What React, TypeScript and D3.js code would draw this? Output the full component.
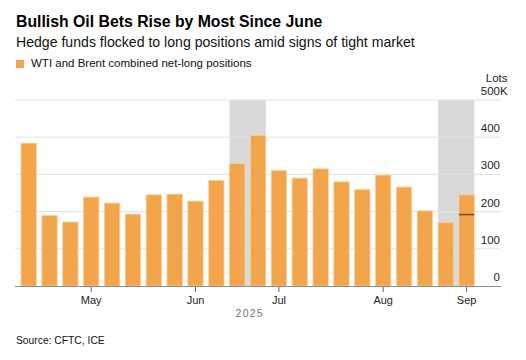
import React from "react";
import * as d3 from "d3";

// ---- data ----
const weeks = [
  "2025-04-08", "2025-04-15", "2025-04-22", "2025-04-29", "2025-05-06", "2025-05-13",
  "2025-05-20", "2025-05-27", "2025-06-03", "2025-06-10", "2025-06-17", "2025-06-24",
  "2025-07-01", "2025-07-08", "2025-07-15", "2025-07-22", "2025-07-29", "2025-08-05",
  "2025-08-12", "2025-08-19", "2025-08-26", "2025-09-02",
];
const netLongK = [384, 189, 172, 239, 223, 193, 245, 247, 228, 284, 329, 405, 310, 290, 315, 280, 259, 298, 266, 202, 170, 245];
const yTicks = [0, 100, 200, 300, 400, 500];
const tickWeeks = ["2025-04-29", "2025-06-03", "2025-07-01", "2025-08-05", "2025-09-02"];
const tickLabels = ["May", "Jun", "Jul", "Aug", "Sep"];
const shadedStart = ["2025-06-17", "2025-08-26"];
const shadedEnd = ["2025-06-24", "2025-09-02"];
const markerWeek = "2025-09-02";
const markerValueK = 192;

const W = 526;
const H = 360;
const FONT = "'Liberation Sans', Arial, Helvetica, sans-serif";
const ORANGE = "#f2a54a";

export default function App() {
  const x = d3.scaleBand<string>().domain(weeks).range([15.5, 479.8]).padding(0.265);
  const y = d3.scaleLinear().domain([0, 500]).range([286, 100]);
  const gridX0 = 15;
  const gridX1 = 501;
  const xCenter = (w: string) => (x(w) as number) + x.bandwidth() / 2;

  return (
    <svg
      width={W}
      height={H}
      style={{ position: "absolute", left: 0, top: 0, background: "#fff", fontFamily: FONT }}
    >
      <rect x={0} y={0} width={W} height={H} fill="#fff" />
      {/* titles */}
      <text x={16} y={26.5} fontSize={15.8} fontWeight="bold" fill="#000">
        Bullish Oil Bets Rise by Most Since June
      </text>
      <text x={16} y={46.5} fontSize={14.1} fill="#111">
        Hedge funds flocked to long positions amid signs of tight market
      </text>
      <rect x={16} y={60} width={8} height={8} fill={ORANGE} />
      <text x={31} y={67} fontSize={11.5} fill="#111">
        WTI and Brent combined net-long positions
      </text>

      {/* shading */}
      {shadedStart.map((s, i) => (
        <rect
          key={"sh" + i}
          x={x(s) as number}
          y={y(500)}
          width={(x(shadedEnd[i]) as number) + x.bandwidth() - (x(s) as number)}
          height={y(0) - y(500)}
          fill="#d9d9d9"
        />
      ))}

      {/* grid */}
      {yTicks.filter((t) => t > 0).map((t) => (
        <line key={"g" + t} x1={gridX0} x2={gridX1} y1={y(t)} y2={y(t)} stroke="#e2e2e2" strokeWidth={1} />
      ))}

      {/* bars */}
      {weeks.map((w, i) => (
        <rect
          key={"b" + i}
          x={x(w) as number}
          y={y(netLongK[i])}
          width={x.bandwidth()}
          height={y(0) - y(netLongK[i])}
          fill={ORANGE}
          stroke="#f8cf9c"
          strokeWidth={0.8}
        />
      ))}

      {/* marker line */}
      <line
        x1={x(markerWeek) as number}
        x2={(x(markerWeek) as number) + x.bandwidth()}
        y1={y(markerValueK)}
        y2={y(markerValueK)}
        stroke="#7a4a14"
        strokeWidth={1.5}
      />

      {/* y labels */}
      {yTicks.map((t) => (
        <text key={"yl" + t} x={500} y={y(t) - 5} fontSize={11.5} fill="#222" textAnchor="end">
          {String(t)}
        </text>
      ))}
      <text x={500} y={y(500) - 5} fontSize={11.5} fill="#222" textAnchor="start">
        K
      </text>
      <text x={507.5} y={82} fontSize={11.5} fill="#222" textAnchor="end">
        Lots
      </text>

      {/* x axis */}
      <line x1={gridX0} x2={gridX1} y1={y(0) + 0.5} y2={y(0) + 0.5} stroke="#8a8a8a" strokeWidth={1.2} />
      {tickWeeks.map((w, i) => (
        <g key={"xt" + i}>
          <line x1={xCenter(w)} x2={xCenter(w)} y1={y(0) + 1} y2={y(0) + 6} stroke="#666" strokeWidth={1} />
          <text x={xCenter(w)} y={303.5} fontSize={11} fill="#222" textAnchor="middle">
            {tickLabels[i]}
          </text>
        </g>
      ))}
      <text x={249.7} y={316.5} fontSize={10.5} fill="#777" textAnchor="middle" letterSpacing={1.2}>
        2025
      </text>

      <text x={16} y={344} fontSize={10.3} fill="#111">
        Source: CFTC, ICE
      </text>
    </svg>
  );
}
